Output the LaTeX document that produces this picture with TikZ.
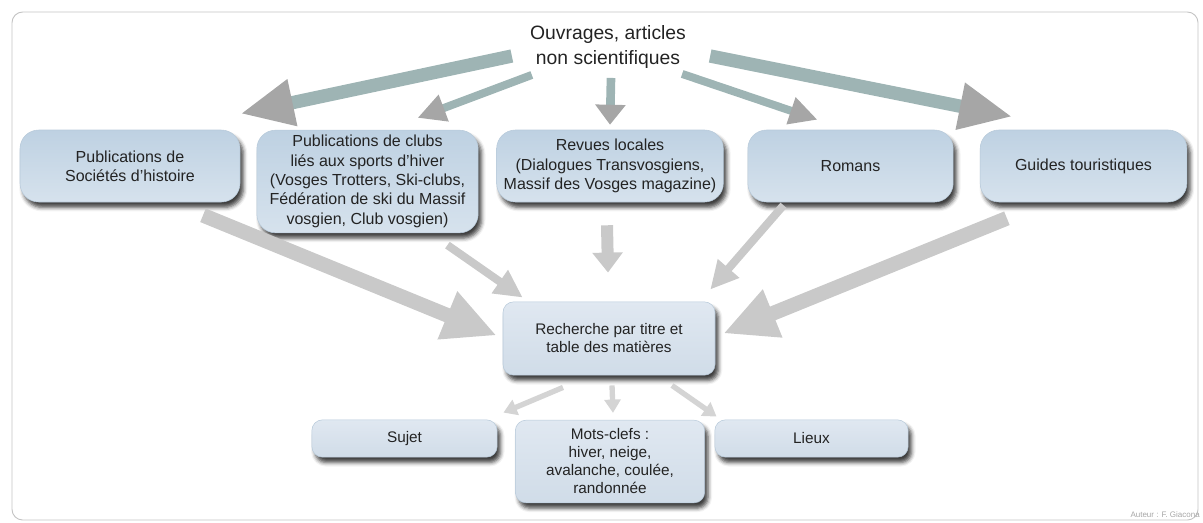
\documentclass[tikz,border=0pt]{standalone}
\usepackage{fontspec}
\setmainfont{Liberation Sans}
\usetikzlibrary{positioning,arrows.meta,calc,shadows.blur}
\definecolor{bTop}{RGB}{190,209,226}
\definecolor{bBot}{RGB}{214,226,237}
\definecolor{bLine}{RGB}{184,202,218}
\definecolor{kTop}{RGB}{224,232,241}
\definecolor{kBot}{RGB}{208,220,232}
\definecolor{aShaft}{RGB}{158,180,180}
\definecolor{aHead}{RGB}{166,166,166}
\definecolor{aLight}{RGB}{201,201,201}
\definecolor{aPale}{RGB}{212,212,212}
\definecolor{tDark}{RGB}{35,35,35}
\definecolor{fLine}{RGB}{196,196,196}
\tikzset{
  src/.style={rectangle, rounded corners=14pt, draw=bLine, top color=bTop,
              bottom color=bBot, minimum height=54pt, align=center, text=tDark,
              font=\fontsize{12}{14.5}\selectfont,
              blur shadow={shadow xshift=2.5pt, shadow yshift=-4pt,
                           shadow blur radius=3pt, shadow opacity=75}},
  key/.style={src, rounded corners=8pt, top color=kTop, bottom color=kBot,
              minimum height=28pt, font=\fontsize{11.5}{13.5}\selectfont},
  head/.style={align=center, text=tDark, inner sep=0pt,
               font=\fontsize{14.5}{19}\selectfont},
  fat/.style={draw=aShaft, line width=10pt,
              -{Triangle[length=40pt,width=33pt,color=aHead,fill=aHead]}},
  slim/.style={draw=aShaft, line width=6pt,
               -{Triangle[length=21pt,width=20pt,color=aHead,fill=aHead]}},
  drop/.style={draw=aShaft, line width=6.5pt,
               -{Triangle[length=15pt,width=22pt,color=aHead,fill=aHead]}},
  lfat/.style={draw=aLight, line width=11pt, -{Triangle[length=40pt,width=36pt]}},
  lslim/.style={draw=aLight, line width=6pt, -{Triangle[length=21pt,width=20pt]}},
  ldrop/.style={draw=aLight, line width=9pt, -{Triangle[length=15pt,width=22pt]}},
  tiny/.style={draw=aPale, line width=4pt, -{Triangle[length=10pt,width=12pt]}},
}

\begin{document}
\begin{tikzpicture}[x=0.75pt, y=-0.75pt]
  \useasboundingbox (0,0) rectangle (1203,522);

  % ---- outer frame ----
  \draw[fLine, line width=0.7pt, rounded corners=8pt] (12,12) rectangle (1198,520);

  % ---- heading ----
  \node[head] (title) at (608,47) {Ouvrages, articles\\non scientifiques};

  % ---- five kinds of sources ----
  \node[src, minimum width=165pt] (hist) at (130,166)
        {Publications de\\Sociétés d'histoire};
  \node[src, minimum width=166pt, minimum height=77pt] (clubs) at (367.5,181.5)
        {Publications de clubs\\liés aux sports d'hiver\\(Vosges Trotters, Ski-clubs,\\Fédération de ski du Massif\\vosgien, Club vosgien)};
  \node[src, minimum width=170pt] (revues) at (610,166)
        {Revues locales\\(Dialogues Transvosgiens,\\Massif des Vosges magazine)};
  \node[src, minimum width=154pt] (romans) at (850.5,166) {Romans};
  \node[src, minimum width=155pt] (guides) at (1083.5,166) {Guides touristiques};

  % ---- search ----
  \node[key, minimum width=159pt, minimum height=55pt] (search) at (609,338.5)
        {Recherche par titre et\\table des matières};

  % ---- criteria ----
  \node[key, minimum width=139pt] (sujet) at (404.5,438.5) {Sujet};
  \node[key, minimum width=142pt, minimum height=62pt] (mots) at (610,461.5)
        {Mots-clefs :\\hiver, neige,\\avalanche, coulée,\\randonnée};
  \node[key, minimum width=145pt] (lieux) at (811.5,438.5) {Lieux};

  % ---- author ----
  \node[anchor=base east, inner sep=0pt, text=gray!70, font=\fontsize{6}{7}\selectfont]
        (auteur) at (1200,517) {Auteur : F. Giacona};

  % ===== heading -> sources =====
  \draw[fat]  ($(title.west)+(-18,9)$)        -- ($(hist.north east)+(0,-16)$);
  \draw[slim] ($(title.south west)+(2,6)$)    -- ($(clubs.north)+(50,-12)$);
  \draw[drop] ($(title.south)+(3,9)$)         -- ($(revues.north)+(0,-5)$);
  \draw[slim] ($(title.south east)+(-4,5)$)   -- ($(romans.north)+(-33,-10)$);
  \draw[fat]  ($(title.east)+(24,9)$)         -- ($(guides.north)+(-71,-13)$);

  % ===== sources -> search =====
  \draw[lfat]  ($(hist.south)+(73,13)$)         -- ($(search.west)+(-6,-3)$);
  \draw[lslim] ($(clubs.south east)+(-31,12)$)  -- ($(search.north west)+(20,-4)$);
  \draw[ldrop] ($(revues.south)+(-3,23)$)       -- ($(search.north)+(-1,-29)$);
  \draw[lslim] ($(romans.south)+(-67,3)$)       -- ($(search.north east)+(-5,-12)$);
  \draw[lfat]  ($(guides.south west)+(27,16)$)  -- ($(search.east)+(8,-5)$);

  % ===== search -> criteria =====
  \draw[tiny] ($(search.south)+(-46,12)$) -- ($(sujet.north east)+(6,-7)$);
  \draw[tiny] ($(search.south)+(3,10)$)   -- ($(mots.north)+(3,-7)$);
  \draw[tiny] ($(search.south)+(63,10)$)  -- ($(lieux.north west)+(2,-3)$);

\end{tikzpicture}
\end{document}
